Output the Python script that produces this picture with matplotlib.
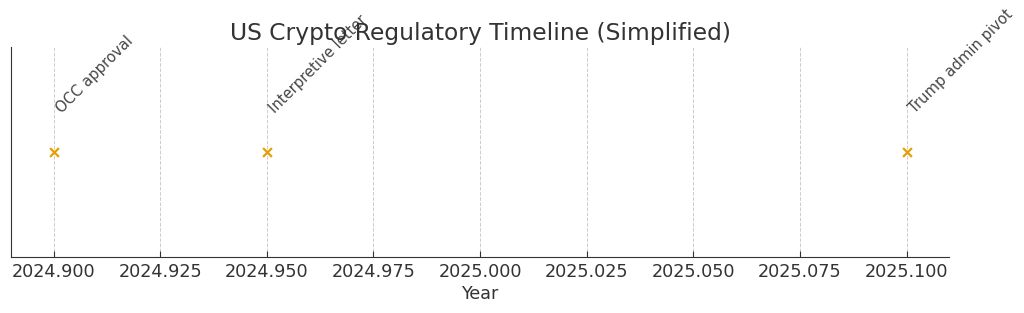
import matplotlib
matplotlib.use("Agg")
import matplotlib.pyplot as plt

years = [2024.90, 2024.95, 2025.10]
events = ["OCC approval", "Interpretive letter", "Trump admin pivot"]
level = [1, 1, 1]

fig, ax = plt.subplots(figsize=(10.24, 3.13), dpi=100)
fig.subplots_adjust(left=0.0107, right=0.927, top=0.85, bottom=0.178)

ax.scatter(years, level, marker="x", color="#E69F00", s=40, linewidths=1.6, zorder=3)
for x, y, t in zip(years, level, events):
    ax.annotate(t, (x, y), xytext=(0, 26), textcoords="offset points",
                rotation=45, ha="left", va="bottom", fontsize=10.6, color="#444444")

ax.set_ylim(0, 2)
ax.set_xlim(2024.89, 2025.11)
ax.set_yticks([])
ax.set_xticks([2024.900, 2024.925, 2024.950, 2024.975, 2025.000, 2025.025, 2025.050, 2025.075, 2025.100])
ax.xaxis.set_major_formatter(matplotlib.ticker.FormatStrFormatter("%.3f"))
ax.tick_params(axis="x", labelsize=12.7, colors="#333333", length=4, direction="in", pad=4)
ax.grid(axis="x", linestyle="--", color="#cccccc", linewidth=0.7)
for s in ["top", "right"]:
    ax.spines[s].set_visible(False)
for s in ["left", "bottom"]:
    ax.spines[s].set_color("#333333")
ax.set_xlabel("Year", fontsize=12.7, color="#333333", labelpad=3)
ax.set_title("US Crypto Regulatory Timeline (Simplified)", fontsize=16.8, color="#333333", pad=5)

fig.savefig("out.png", dpi=100)
